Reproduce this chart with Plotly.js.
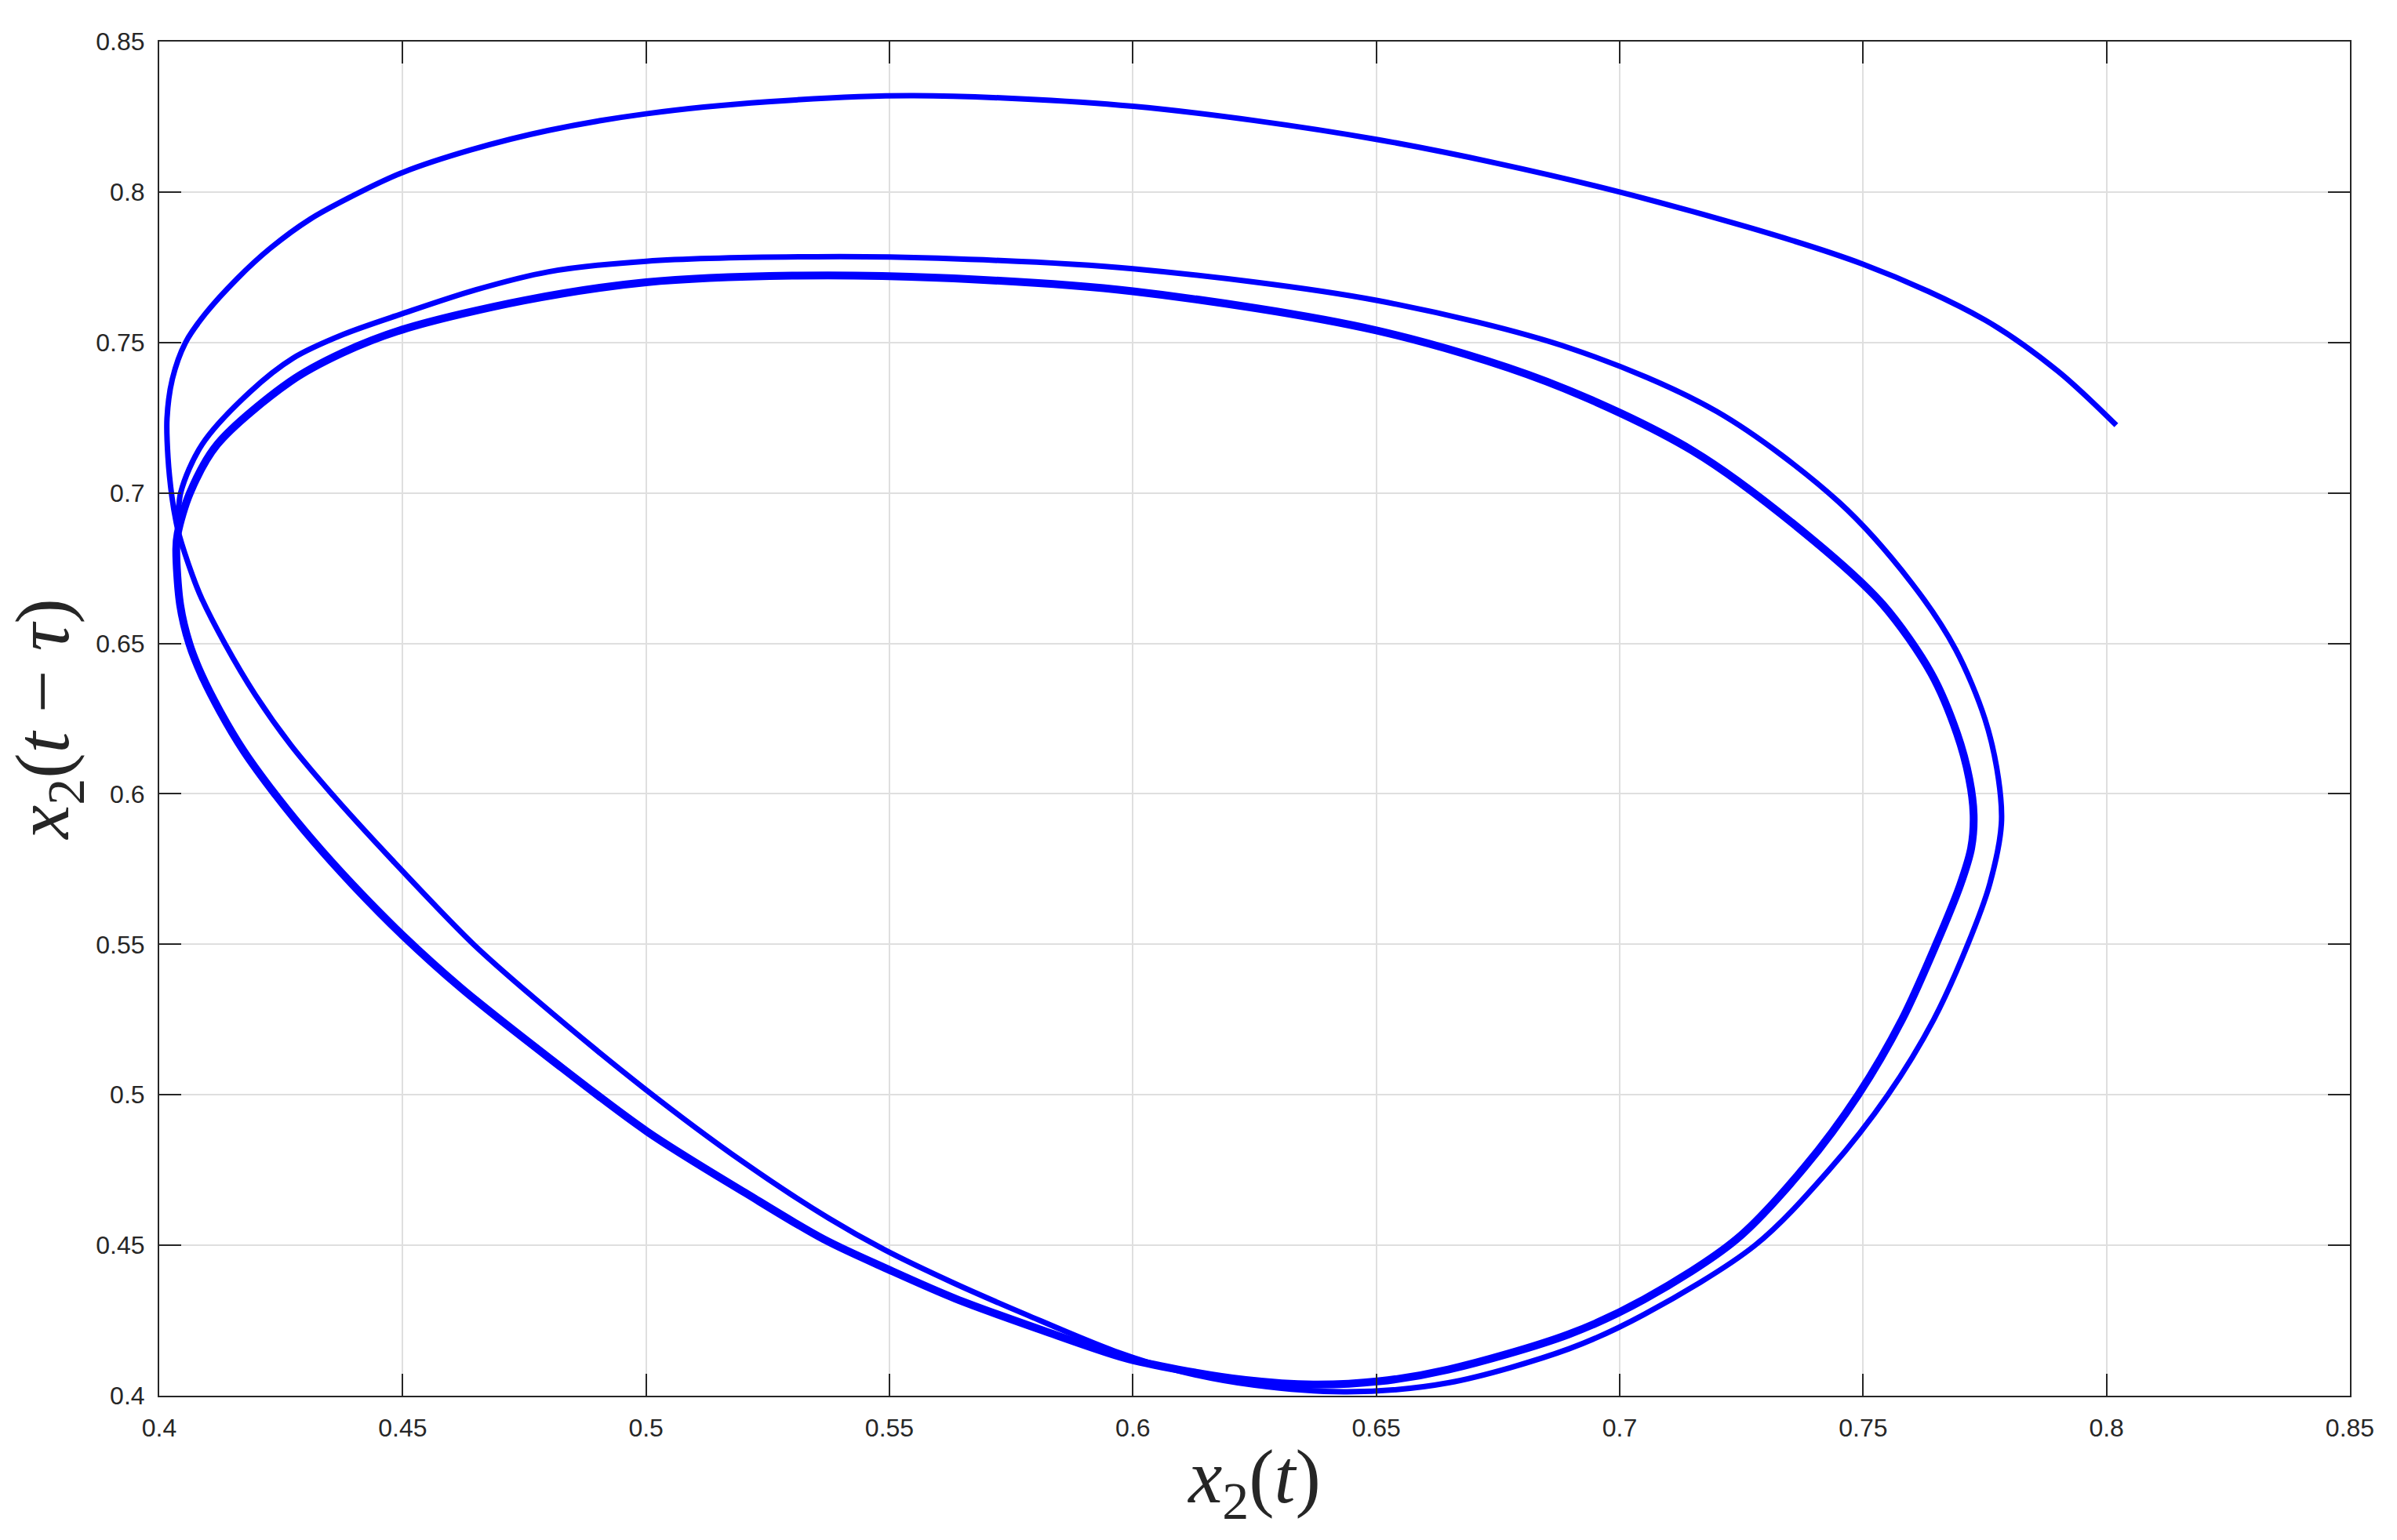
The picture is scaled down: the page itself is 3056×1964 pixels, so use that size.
<!DOCTYPE html>
<html>
<head>
<meta charset="utf-8">
<script src="https://cdn.plot.ly/plotly-3.0.1.min.js"></script>
<style>
  html, body { margin: 0; padding: 0; background: #fff; }
  #chart { width: 3056px; height: 1964px; }
</style>
</head>
<body>
<div id="chart"></div>
<script>
// first two turns of the orbit, from the starting point until it joins the cycle
const transX = [0.802, 0.790, 0.775, 0.750, 0.700, 0.650, 0.600, 0.555, 0.525, 0.500, 0.480, 0.464, 0.450, 0.4413, 0.431, 0.4228, 0.4160, 0.4095, 0.4054, 0.4027, 0.4016, 0.4018, 0.4026, 0.4035, 0.4040,
  0.4068, 0.4087, 0.4135, 0.4197, 0.4270, 0.4355, 0.4478, 0.4645, 0.4770, 0.4995, 0.5200, 0.5375, 0.5490, 0.5630, 0.5780, 0.5963, 0.6100, 0.6250, 0.6440, 0.6648, 0.6896,
  0.7050, 0.7278, 0.7430, 0.7551, 0.7645, 0.7715, 0.7760, 0.7784, 0.7778, 0.7750, 0.7690, 0.7600, 0.7450, 0.7200, 0.6900, 0.6500, 0.6000, 0.5600, 0.5350, 0.5000, 0.4800, 0.4650, 0.4500,
  0.4377, 0.4275, 0.4186, 0.4088, 0.4044, 0.4038, 0.4035];
const transY = [0.7225, 0.7405, 0.7575, 0.7760, 0.8000, 0.8175, 0.8285, 0.832, 0.8300, 0.8260, 0.8205, 0.8140, 0.8065, 0.800, 0.791, 0.7813, 0.7712, 0.7596, 0.750, 0.7379, 0.7248, 0.7118, 0.6988, 0.6901, 0.6866,
  0.6727, 0.6650, 0.6499, 0.6330, 0.6163, 0.5999, 0.5781, 0.5501, 0.5322, 0.5023, 0.4776, 0.4590, 0.4485, 0.4376, 0.4270, 0.4148, 0.4080, 0.4035, 0.4013, 0.4043, 0.4156,
  0.4270, 0.450, 0.475, 0.500, 0.525, 0.550, 0.570, 0.590, 0.605, 0.625, 0.648, 0.670, 0.697, 0.727, 0.748, 0.764, 0.7745, 0.778, 0.7785, 0.7770, 0.7735, 0.7675, 0.7596,
  0.7526, 0.7448, 0.7335, 0.7161, 0.700, 0.6866, 0.6814];

// the settled cycle, drawn as one closed turn
const cycleX = [0.4035, 0.4043, 0.4062, 0.4087, 0.4125, 0.4173, 0.4238, 0.4315, 0.4398, 0.4500, 0.4620, 0.4803, 0.5002, 0.5204, 0.5365, 0.5500, 0.5635, 0.5815, 0.5982, 0.6093, 0.6232, 0.6370, 0.6506, 0.6648, 0.6895,
  0.7050, 0.7240, 0.7380, 0.7490, 0.7580, 0.7650, 0.7700, 0.7722, 0.7727, 0.7718, 0.7693, 0.7640, 0.7540, 0.7400, 0.7150, 0.6850, 0.6500, 0.6000, 0.5600, 0.5300, 0.5000, 0.4750, 0.4502,
  0.4377, 0.4269, 0.4119, 0.4063, 0.4038, 0.4035];
const cycleY = [0.6814, 0.6628, 0.6498, 0.6395, 0.6274, 0.6144, 0.5999, 0.5846, 0.5697, 0.5530, 0.5355, 0.5120, 0.4878, 0.4674, 0.4520, 0.4418, 0.4323, 0.4217, 0.4126, 0.4087, 0.4052, 0.4037, 0.4048, 0.4087, 0.4204,
  0.4320, 0.4520, 0.4760, 0.5000, 0.5250, 0.5500, 0.5700, 0.5820, 0.5930, 0.6050, 0.6200, 0.6400, 0.6630, 0.6840, 0.7140, 0.7370, 0.7540, 0.7670, 0.7715, 0.7722, 0.7700, 0.7640, 0.7544,
  0.7466, 0.7370, 0.7161, 0.7000, 0.6866, 0.6814];

const tickVals = [0.4, 0.45, 0.5, 0.55, 0.6, 0.65, 0.7, 0.75, 0.8, 0.85];
const tickText = ['0.4', '0.45', '0.5', '0.55', '0.6', '0.65', '0.7', '0.75', '0.8', '0.85'];

const axisInk = '#262626';
const tickFont = { family: "'Liberation Sans', Arial, Helvetica, sans-serif", size: 32, color: axisInk };
const titleFont = { family: "'Liberation Serif', 'Times New Roman', serif", size: 97, color: axisInk };

const transient = {
  x: transX, y: transY,
  type: 'scatter', mode: 'lines',
  line: { color: '#0000ff', width: 7, shape: 'spline', smoothing: 0.9 },
  hoverinfo: 'skip'
};
const cycle = {
  x: cycleX, y: cycleY,
  type: 'scatter', mode: 'lines',
  line: { color: '#0000ff', width: 10, shape: 'spline', smoothing: 0.9 },
  hoverinfo: 'skip'
};

const axisBase = {
  range: [0.4, 0.85],
  tickmode: 'array',
  tickvals: tickVals,
  ticktext: tickText,
  ticks: 'inside',
  ticklen: 28,
  tickwidth: 2,
  tickcolor: axisInk,
  showline: true,
  linewidth: 2,
  linecolor: axisInk,
  mirror: 'ticks',
  showgrid: true,
  gridcolor: '#dfdfdf',
  gridwidth: 2,
  zeroline: false,
  tickfont: tickFont,
  automargin: false
};

const layout = {
  width: 3056,
  height: 1964,
  margin: { l: 203, r: 60, t: 53, b: 184 },
  paper_bgcolor: '#ffffff',
  plot_bgcolor: '#ffffff',
  showlegend: false,
  xaxis: Object.assign({}, axisBase, {
    ticklabelstandoff: 12,
    title: { text: '<i>x</i><sub>2</sub>(<i>t</i>)', font: titleFont, standoff: 10 }
  }),
  yaxis: Object.assign({}, axisBase, {
    ticklabelstandoff: 10,
    title: { text: '<i>x</i><sub>2</sub>(<i>t</i> \u2212 <i>\u03c4</i>)', font: titleFont, standoff: 2 }
  })
};

Plotly.newPlot('chart', [transient, cycle], layout, { staticPlot: true });
</script>
</body>
</html>
